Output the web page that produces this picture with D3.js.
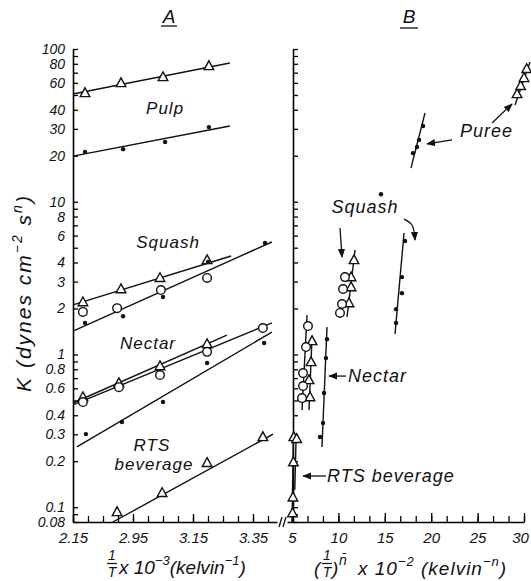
<!DOCTYPE html>
<html><head><meta charset="utf-8">
<script src="https://cdn.jsdelivr.net/npm/d3@7"></script>
<style>
body{margin:0;background:#fff}
svg text{font-family:"Liberation Sans",Arial,sans-serif;fill:#111}
</style>
</head><body><svg id="c" width="531" height="581"></svg>
<script>
// ---------- tick labels ----------
const yTickLabels = [100,80,60,40,30,20,10,8,6,4,3,2,1,0.8,0.6,0.4,0.3,0.2,0.1,0.08];
const xATickValues = [2.75,2.95,3.15,3.35];
const xATickLabels = ["2.15","2.95","3.15","3.35"];
const xBTickValues = [5,10,15,20,25,30];

// ---------- Panel A : K vs 1/T x10^-3 ----------
const pulpTri      = [[2.79,51.5],[2.91,59.9],[3.05,65.5],[3.203,77.4]];
const pulpTriFit   = [[2.75,50.7],[3.273,81.0]];
const pulpDot      = [[2.79,21.2],[2.917,22.1],[3.057,24.6],[3.203,30.8]];
const pulpDotFit   = [[2.75,19.9],[3.273,31.3]];
const squashTri    = [[2.783,2.20],[2.91,2.68],[3.04,3.17],[3.197,4.15]];
const squashTriFit = [[2.75,2.11],[3.277,4.41]];
const squashCirc   = [[2.783,1.90],[2.897,2.01],[3.043,2.64],[3.197,3.17]];
const squashDot    = [[2.79,1.61],[2.917,1.78],[3.05,2.38],[3.2,4.03],[3.39,5.37]];
const squashFit    = [[2.75,1.42],[3.413,5.45]];
const nectarTri    = [[2.783,0.526],[2.903,0.65],[3.04,0.839],[3.197,1.17]];
const nectarTriFit = [[2.75,0.481],[3.263,1.34]];
const nectarCirc   = [[2.783,0.488],[2.903,0.611],[3.04,0.733],[3.197,1.04],[3.383,1.49]];
const nectarCircFit= [[2.75,0.467],[3.413,1.61]];
const nectarDot    = [[2.793,0.301],[2.913,0.361],[3.05,0.488],[3.197,0.879],[3.387,1.19]];
const nectarDotFit = [[2.763,0.248],[3.413,1.40]];
const rtsTri       = [[2.897,0.093],[3.047,0.124],[3.197,0.195],[3.383,0.288]];
const rtsTriFit    = [[2.883,0.080],[3.417,0.301]];

// ---------- Panel B : K vs (1/T)^n x10^-2 ----------
const pureeDotB      = [[18.04,20.8],[18.47,22.8],[18.69,25.4],[19.12,31.3]];
const pureeDotFitB   = [[17.82,16.6],[19.33,38.1]];
const pureeTriB      = [[29.25,50.7],[29.64,57.3],[30.0,64.6],[30.29,74.0]];
const pureeTriFitB   = [[29.03,43.0],[30.65,82.2]];
const squashCircB    = [[10.71,3.21],[10.50,2.68],[10.39,2.14],[10.17,1.87]];
const squashTriB     = [[11.68,4.15],[11.36,3.21],[11.36,2.76],[11.14,2.17]];
const squashTriFitB  = [[11.79,4.83],[10.93,1.76]];
const squashDotB     = [[17.18,5.53],[16.85,3.21],[16.85,2.52],[16.21,1.98],[16.21,1.61]];
const squashDotFitB  = [[17.07,6.24],[16.10,1.36]];
const strayDotB      = [[14.59,11.2]];
const nectarCircB    = [[6.72,1.535],[6.51,1.118],[6.19,0.755],[6.19,0.621],[6.08,0.518]];
const nectarCircFitB = [[6.62,1.81],[6.08,0.432]];
const nectarTriB     = [[7.16,1.225],[7.05,0.892],[6.83,0.680],[6.94,0.526]];
const nectarTriFitB  = [[7.16,1.30],[6.83,0.432]];
const nectarDotB     = [[8.77,1.26],[8.66,0.947],[8.45,0.559],[8.34,0.356],[8.02,0.288]];
const nectarDotFitB  = [[8.77,1.51],[8.23,0.248]];
const rtsTriB        = [[5.2,0.288],[5.5,0.28],[5.15,0.197],[5.1,0.116],[5.05,0.0914]];
const rtsFitB        = [[5.15,0.30],[5.0,0.08]];
const rtsFit2B       = [[5.45,0.30],[5.3,0.13]];

// ---------- labels & arrows (data coordinates) ----------
const labelsA = [
  {t:"Pulp", x:3.057, y:37.5}, {t:"Squash", x:3.067, y:4.97},
  {t:"Nectar", x:3.0, y:1.085}, {t:"RTS", x:3.013, y:0.234},
  {t:"beverage", x:3.02, y:0.176}];
const labelsB = [
  {t:"Puree", x:23.1, y:26.5, a:"start"}, {t:"Squash", x:12.87, y:8.43, a:"middle"},
  {t:"Nectar", x:11.03, y:0.659, a:"start"}, {t:"RTS  beverage", x:8.77, y:0.146, a:"start"}];
const arrowsB = [
  [[22.24,25.4],[19.55,23.9]],
  [[26.55,32.8],[28.71,43.6]],
  [[10.17,6.73],[10.39,4.34]],
  [[17.07,7.7],[17.93,7.04],[18.25,5.61]],
  [[10.82,0.722],[8.99,0.722]],
  [[8.66,0.16],[6.19,0.16]]];

// ---------- scales ----------
const svg = d3.select("#c");
const y  = d3.scaleLog().domain([0.08,100]).range([522,49]);
const xA = d3.scaleLinear().domain([2.75,3.43]).range([73,277]);
const xB = d3.scaleLinear().domain([4.46,30]).range([287,524]);
const bLeft = 293;

const defs = svg.append("defs");
defs.append("marker").attr("id","ah").attr("viewBox","0 0 10 10").attr("refX",9).attr("refY",5)
  .attr("markerWidth",9).attr("markerHeight",9).attr("orient","auto-start-reverse")
  .attr("markerUnits","userSpaceOnUse")
  .append("path").attr("d","M0,1 L10,5 L0,9 Z").attr("fill","#111");

const isLab = d => yTickLabels.some(v => Math.abs(v-d)/d < 1e-6);

// ---------- Axes A ----------
const gA = svg.append("g");
gA.append("g").attr("transform",`translate(${xA(2.75)},0)`)
  .call(d3.axisLeft(y).tickValues(y.ticks()).tickSizeInner(-5).tickSizeOuter(0).tickPadding(8)
    .tickFormat(d => isLab(d) ? String(d) : ""))
  .call(g => g.selectAll("text").attr("font-size",14).attr("font-style","italic"));
const xAminor = xA.ticks(14);
gA.append("g").attr("transform","translate(0,522)")
  .call(d3.axisBottom(xA).tickValues(xAminor).tickSizeInner(-6).tickSizeOuter(0).tickFormat(""));
gA.append("g").attr("transform","translate(0,522)")
  .call(d3.axisBottom(xA).tickValues(xATickValues).tickSizeInner(-8).tickSizeOuter(0).tickPadding(10)
    .tickFormat((d,i) => xATickLabels[i]))
  .call(g => g.select(".domain").remove())
  .call(g => g.selectAll("text").attr("font-size",15).attr("font-style","italic"));

// ---------- Axes B ----------
const gB = svg.append("g");
gB.append("g").attr("transform",`translate(${bLeft},0)`)
  .call(d3.axisLeft(y).tickValues(y.ticks()).tickSizeInner(-5).tickSizeOuter(0).tickFormat(""));
const xBminor = d3.range(5, 30.01, 5/3);
gB.append("g").attr("transform","translate(0,522)")
  .call(d3.axisBottom(xB).tickValues(xBminor).tickSizeInner(-6).tickSizeOuter(0).tickFormat(""));
gB.append("g").attr("transform","translate(0,522)")
  .call(d3.axisBottom(xB).tickValues(xBTickValues).tickSizeInner(-9).tickSizeOuter(0).tickPadding(10))
  .call(g => g.select(".domain").remove())
  .call(g => g.selectAll("text").attr("font-size",15).attr("font-style","italic")
    .attr("dx", d => d === 30 ? -4 : 0));
svg.selectAll(".domain").attr("stroke-width",1.6);
svg.selectAll(".tick line").attr("stroke-width",1.3);

// axis break marks
[279,283].forEach(bx => svg.append("line").attr("x1",bx).attr("y1",527).attr("x2",bx+3).attr("y2",517)
  .attr("stroke","#111").attr("stroke-width",1.3));

// ---------- marks ----------
const line = (sx) => d3.line().x(d => sx(d[0])).y(d => y(d[1]));
const triPath = "M0,-5.2 L4.8,3.6 L-4.8,3.6 Z";
function drawLine(g, sx, data){
  g.append("path").datum(data).attr("d", line(sx)).attr("fill","none").attr("stroke","#111").attr("stroke-width",1.4);
}
function drawTri(g, sx, data){
  g.selectAll(null).data(data).join("path").attr("d",triPath)
    .attr("transform",d=>`translate(${sx(d[0])},${y(d[1])})`)
    .attr("fill","#fff").attr("stroke","#111").attr("stroke-width",1.4);
}
function drawCirc(g, sx, data){
  g.selectAll(null).data(data).join("circle").attr("cx",d=>sx(d[0])).attr("cy",d=>y(d[1])).attr("r",4.3)
    .attr("fill","#fff").attr("stroke","#111").attr("stroke-width",1.4);
}
function drawDot(g, sx, data){
  g.selectAll(null).data(data).join("circle").attr("cx",d=>sx(d[0])).attr("cy",d=>y(d[1])).attr("r",2.2)
    .attr("fill","#111");
}

const mA = svg.append("g");
[pulpTriFit,pulpDotFit,squashTriFit,squashFit,nectarTriFit,nectarCircFit,nectarDotFit,rtsTriFit]
  .forEach(d => drawLine(mA, xA, d));
[pulpTri,squashTri,nectarTri,rtsTri].forEach(d => drawTri(mA, xA, d));
[squashCirc,nectarCirc].forEach(d => drawCirc(mA, xA, d));
[pulpDot,squashDot,nectarDot].forEach(d => drawDot(mA, xA, d));

const mB = svg.append("g");
[pureeDotFitB,pureeTriFitB,squashTriFitB,squashDotFitB,nectarCircFitB,nectarTriFitB,nectarDotFitB,rtsFitB,rtsFit2B]
  .forEach(d => drawLine(mB, xB, d));
[pureeTriB,squashTriB,nectarTriB,rtsTriB].forEach(d => drawTri(mB, xB, d));
[squashCircB,nectarCircB].forEach(d => drawCirc(mB, xB, d));
[pureeDotB,squashDotB,nectarDotB,strayDotB].forEach(d => drawDot(mB, xB, d));

// arrows
arrowsB.forEach(a => {
  const p = a.length > 2 ? d3.line().curve(d3.curveCatmullRom).x(d=>xB(d[0])).y(d=>y(d[1]))
                         : line(xB);
  mB.append("path").datum(a).attr("d", p).attr("fill","none").attr("stroke","#111")
    .attr("stroke-width",1.3).attr("marker-end","url(#ah)");
});

// labels
labelsA.forEach(l => svg.append("text").attr("x",xA(l.x)).attr("y",y(l.y)).attr("text-anchor","middle")
  .attr("font-size",17).attr("font-style","italic").attr("letter-spacing",1).text(l.t));
labelsB.forEach(l => svg.append("text").attr("x",xB(l.x)).attr("y",y(l.y)).attr("text-anchor",l.a)
  .attr("font-size",18).attr("font-style","italic").attr("letter-spacing",1).text(l.t));

// panel titles
[["A",169,23,161,177,26],["B",409,23,400,418,28]].forEach(([t,cx,by,u1,u2,uy]) => {
  svg.append("text").attr("x",cx).attr("y",by).attr("text-anchor","middle").attr("font-size",19)
    .attr("font-style","italic").text(t);
  svg.append("line").attr("x1",u1).attr("x2",u2).attr("y1",uy).attr("y2",uy).attr("stroke","#111").attr("stroke-width",1.3);
});

// y-axis title
const yt = svg.append("text").attr("transform","translate(31,293) rotate(-90)").attr("text-anchor","middle")
  .attr("font-size",21).attr("font-style","italic").attr("letter-spacing",2);
yt.append("tspan").text("K (dynes cm");
yt.append("tspan").attr("dy",-9).attr("font-size",14).text("−2");
yt.append("tspan").attr("dy",9).text(" s");
yt.append("tspan").attr("dy",-9).attr("font-size",14).text("n");
yt.append("tspan").attr("dy",9).text(")");

// x-axis titles
function frac(cx){
  svg.append("text").attr("x",cx).attr("y",560).attr("text-anchor","middle").attr("font-size",14).attr("font-style","italic").text("1");
  svg.append("line").attr("x1",cx-5).attr("x2",cx+5).attr("y1",563.5).attr("y2",563.5).attr("stroke","#111").attr("stroke-width",1.2);
  svg.append("text").attr("x",cx).attr("y",577).attr("text-anchor","middle").attr("font-size",14).attr("font-style","italic").text("T");
}
frac(112);
const xt = svg.append("text").attr("x",119).attr("y",574).attr("font-size",19).attr("font-style","italic");
xt.append("tspan").text("x 10");
xt.append("tspan").attr("dy",-9).attr("font-size",13).text("−3");
xt.append("tspan").attr("dy",9).text("(kelvin");
xt.append("tspan").attr("dy",-9).attr("font-size",13).text("−1");
xt.append("tspan").attr("dy",9).text(")");

svg.append("text").attr("x",314).attr("y",575).attr("font-size",19).attr("font-style","italic").text("(");
frac(327);
svg.append("text").attr("x",332).attr("y",575).attr("font-size",19).attr("font-style","italic").text(")");
svg.append("text").attr("x",339).attr("y",565).attr("font-size",14).attr("font-style","italic").text("n\u0304");
const xt2 = svg.append("text").attr("x",358).attr("y",575).attr("font-size",19).attr("font-style","italic")
  .attr("letter-spacing",1);
xt2.append("tspan").text("x 10");
xt2.append("tspan").attr("dy",-9).attr("font-size",13).text("−2");
xt2.append("tspan").attr("dy",9).text(" (kelvin");
xt2.append("tspan").attr("dy",-9).attr("font-size",13).text("−n");
xt2.append("tspan").attr("dy",9).text(")");
</script>
</body></html>
